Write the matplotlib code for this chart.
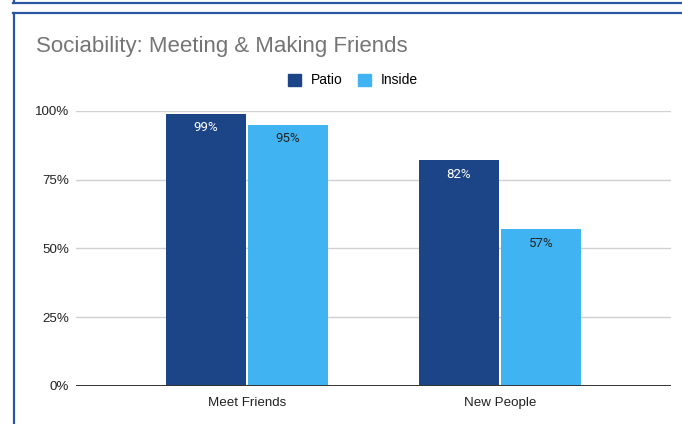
import matplotlib
matplotlib.use("Agg")
import matplotlib.pyplot as plt
from matplotlib.lines import Line2D
from matplotlib.patches import Patch
import numpy as np

categories = ["Meet Friends", "New People"]
series_names = ["Patio", "Inside"]
patio = [99, 82]
inside = [95, 57]
ytick_values = [0, 25, 50, 75, 100]
ytick_labels = ["0%", "25%", "50%", "75%", "100%"]

PATIO_COLOR = "#1c4587"
INSIDE_COLOR = "#40b4f3"
FRAME_COLOR = "#2b56a0"

W, H = 682, 424
fig = plt.figure(figsize=(W / 100, H / 100), dpi=100)
plt.rcParams["font.family"] = ["Liberation Sans", "DejaVu Sans"]

def px(x, y):
    return x / W, 1 - y / H

# frame lines around the card
for (x0, y0, x1, y1) in [(13, 2.5, W, 2.5), (14, 0, 14, 3), (13, 13, W, 13), (14, 13, 14, H)]:
    a, b = px(x0, y0)
    c, d = px(x1, y1)
    fig.add_artist(Line2D([a, c], [b, d], color=FRAME_COLOR, lw=1.6, transform=fig.transFigure))

left, right = 76, 671
top, bottom = 111, 386
ax = fig.add_axes([left / W, 1 - bottom / H, (right - left) / W, (bottom - top) / H])

x = np.arange(len(categories))
bw = 0.316
gap = 0.004
b1 = ax.bar(x - bw / 2 - gap, patio, width=bw, color=PATIO_COLOR, zorder=3)
b2 = ax.bar(x + bw / 2 + gap, inside, width=bw, color=INSIDE_COLOR, zorder=3)

label_font = ["Roboto", "DejaVu Sans"]
for rect, v in zip(b1, patio):
    ax.annotate(f"{v}%", (rect.get_x() + rect.get_width() / 2, v), xytext=(0, -10),
                textcoords="offset points", ha="center", va="center", fontsize=9.5,
                color="white", family=label_font, zorder=4)
for rect, v in zip(b2, inside):
    ax.annotate(f"{v}%", (rect.get_x() + rect.get_width() / 2, v), xytext=(0, -10),
                textcoords="offset points", ha="center", va="center", fontsize=9.5,
                color="#222222", family=label_font, zorder=4)

ax.set_xlim(-0.676, 1.676)
ax.set_ylim(0, 100)
ax.set_yticks(ytick_values)
ax.set_yticklabels(ytick_labels)
ax.set_xticks(x)
ax.set_xticklabels(categories)
ax.tick_params(axis="both", length=0, labelsize=9.6, labelcolor="#222222")
ax.tick_params(axis="y", pad=5)
ax.tick_params(axis="x", pad=8)
for s in ax.spines.values():
    s.set_visible(False)
ax.grid(axis="y", color="#d0d0d0", lw=1, zorder=0)
ax.axhline(0, color="#333333", lw=1.4, zorder=5)
ax.set_axisbelow(True)

tx, ty = px(36, 46.5)
fig.text(tx, ty, "Sociability: Meeting & Making Friends", fontsize=16, color="#757575",
         va="center", ha="left")

handles = [Patch(color=PATIO_COLOR), Patch(color=INSIDE_COLOR)]
lx, ly = px(353, 80.5)
fig.legend(handles, series_names, loc="center", bbox_to_anchor=(lx, ly), ncol=2, frameon=False,
           fontsize=10, handlelength=0.95, handleheight=0.95, handletextpad=0.7, columnspacing=1.1)

fig.savefig("out.png", dpi=100)
